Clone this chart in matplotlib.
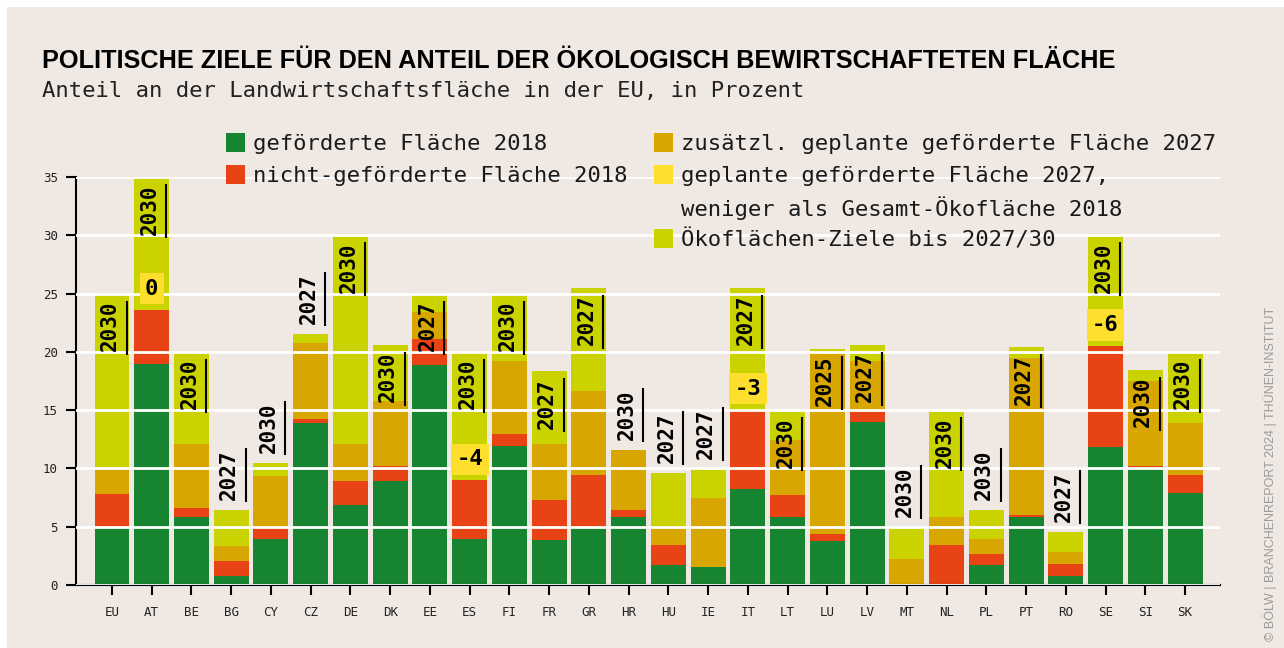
import matplotlib
matplotlib.use("Agg")
import matplotlib.pyplot as plt
from matplotlib.patches import Rectangle
from matplotlib import font_manager
import numpy as np

# data (percent of agricultural area)
countries = ["EU", "AT", "BE", "BG", "CY", "CZ", "DE", "DK", "EE", "ES", "FI", "FR", "GR", "HR",
             "HU", "IE", "IT", "LT", "LU", "LV", "MT", "NL", "PL", "PT", "RO", "SE", "SI", "SK"]
funded_2018 = [5.0, 19.0, 5.8, 0.8, 3.95, 13.9, 6.85, 8.9, 18.9, 3.95, 11.9, 3.9, 5.0, 5.8,
               1.7, 1.55, 8.25, 5.8, 3.8, 14.0, 0.0, 0.0, 1.7, 5.8, 0.8, 11.8, 10.1, 7.85]
unfunded_2018 = [2.8, 4.6, 0.8, 1.25, 1.05, 0.35, 2.05, 1.3, 2.2, 5.05, 1.05, 3.4, 4.45, 0.65,
                 1.7, 0.0, 6.8, 1.95, 0.6, 1.05, 0.0, 3.45, 0.95, 0.2, 1.0, 8.7, 0.15, 1.6]
extra_planned_2027 = [2.2, 0.0, 5.5, 1.3, 4.35, 6.5, 3.2, 5.6, 2.3, 0.0, 6.25, 4.8, 7.2, 5.15,
                      1.65, 5.9, 0.0, 4.7, 15.6, 4.2, 2.25, 2.4, 1.3, 13.5, 1.05, 0.0, 7.25, 4.45]
target_total = [25.0, 35.0, 20.0, 6.45, 10.45, 21.55, 30.0, 20.6, 25.0, 20.0, 25.0, 18.35, 25.5, 11.6,
                9.6, 9.95, 25.5, 15.0, 20.25, 20.6, 5.0, 15.0, 6.45, 20.4, 4.55, 30.0, 18.45, 20.0]
target_year = ["2030", "2030", "2030", "2027", "2030", "2027", "2030", "2030", "2027", "2030",
               "2030", "2027", "2027", "2030", "2027", "2027", "2027", "2030", "2025", "2027",
               "2030", "2030", "2030", "2027", "2027", "2030", "2030", "2030"]
# planned funded area 2027 minus total organic area 2018, where it is not higher
shortfall = {"AT": "0", "ES": "-4", "IT": "-3", "SE": "-6"}
year_label_above = {"BG", "CY", "CZ", "HR", "HU", "IE", "MT", "PL", "RO"}

legend_labels = ["geförderte Fläche 2018", "nicht-geförderte Fläche 2018",
                 "zusätzl. geplante geförderte Fläche 2027",
                 "geplante geförderte Fläche 2027,\nweniger als Gesamt-Ökofläche 2018",
                 "Ökoflächen-Ziele bis 2027/30"]

GREEN, RED, GOLD, LIME, YELLOW = "#168430", "#E84315", "#D8A600", "#CAD300", "#FFDF2E"
BG = "#EFE8E3"
MONO = "DejaVu Sans Mono"
plt.rcParams["font.family"] = MONO

W, H = 1284, 648
fig = plt.figure(figsize=(W / 100, H / 100), dpi=100)
fig.patch.set_facecolor("white")
fig.add_artist(Rectangle((7 / W, 0), 1 - 7 / W, 1 - 7 / H, transform=fig.transFigure,
                         facecolor=BG, edgecolor="none", zorder=-10))


def fx(px):
    return px / W


def fy(py):
    return 1 - py / H


ax_l, ax_r, ax_t, ax_b = 76, 1220, 177, 585
ax = fig.add_axes([fx(ax_l), fy(ax_b), (ax_r - ax_l) / W, (ax_b - ax_t) / H])
ax.set_facecolor("none")

x = np.arange(len(countries))
g = np.array(funded_2018)
r = np.array(unfunded_2018)
o = np.array(extra_planned_2027)
t = np.array(target_total)
lime = np.clip(t - g - r - o, 0, None)

bw = 0.88
ax.bar(x, g, bw, color=GREEN, linewidth=0)
ax.bar(x, r, bw, bottom=g, color=RED, linewidth=0)
ax.bar(x, o, bw, bottom=g + r, color=GOLD, linewidth=0)
ax.bar(x, lime, bw, bottom=g + r + o, color=LIME, linewidth=0)

ax.set_xlim(-0.906, len(countries) - 1 + 0.88)
ax.set_ylim(0, 35)
ax.set_yticks(range(0, 36, 5))
ax.set_xticks(x)
ax.set_xticklabels(countries)
ax.yaxis.grid(True, color="white", linewidth=2)
ax.set_axisbelow(False)
for s in ["top", "right"]:
    ax.spines[s].set_visible(False)
for s in ["left", "bottom"]:
    ax.spines[s].set_linewidth(1.5)
    ax.spines[s].set_color("black")
ax.tick_params(axis="both", length=7, width=1.5, color="black", labelsize=9, labelcolor="#222222")
ax.tick_params(axis="x", pad=8)
ax.tick_params(axis="y", pad=6)

ppu = (ax_b - ax_t) / 35.0  # pixels per percent
px_per_x = (ax_r - ax_l) / (len(countries) - 1 + 0.906 + 0.88)

for i, c in enumerate(countries):
    top = t[i]
    if c in year_label_above:
        ax.text(i - 2 / px_per_x, top + 10 / ppu, target_year[i], rotation=90, ha="center", va="bottom",
                fontsize=15, fontweight="bold", color="black", zorder=4)
        y0, y1 = top + 8 / ppu, top + 62 / ppu
    else:
        ax.text(i - 2 / px_per_x, top - 7 / ppu, target_year[i], rotation=90, ha="center", va="top",
                fontsize=15, fontweight="bold", color="black", zorder=4)
        y0, y1 = top - 7 / ppu, top - 61 / ppu
    lx = i + 14.5 / px_per_x
    ax.plot([lx, lx], [y0, y1], color="black", linewidth=1.5, zorder=4, solid_capstyle="butt")
    if c in shortfall:
        ax.text(i, g[i] + r[i] + 21 / ppu, shortfall[c], ha="center", va="center", fontsize=16,
                fontweight="bold", color="black", zorder=5,
                bbox=dict(boxstyle="square,pad=0.25", facecolor=YELLOW, edgecolor="none"))

# title and subtitle
names = {f.name for f in font_manager.fontManager.ttflist}
title_family = "Liberation Sans Narrow" if "Liberation Sans Narrow" in names else "Liberation Sans"
title = fig.text(fx(42), fy(68), "POLITISCHE ZIELE FÜR DEN ANTEIL DER ÖKOLOGISCH BEWIRTSCHAFTETEN FLÄCHE",
                 family=title_family, fontweight="bold", fontsize=17, color="black",
                 ha="left", va="baseline")
renderer = fig.canvas.get_renderer()
tw = title.get_window_extent(renderer).width
title.set_fontsize(17 * 1073 / tw)
fig.text(fx(42), fy(97), "Anteil an der Landwirtschaftsfläche in der EU, in Prozent",
         fontsize=16, color="#222222", ha="left", va="baseline")

# legend, drawn by hand in two columns; 32 px per text line
legend = [(253, 142, GREEN, legend_labels[0]),
          (253, 174, RED, legend_labels[1]),
          (681, 142, GOLD, legend_labels[2]),
          (681, 174, YELLOW, legend_labels[3]),
          (681, 238, LIME, legend_labels[4])]
for tx, ty, col, lab in legend:
    fig.add_artist(Rectangle((fx(tx - 27), fy(ty + 9.5)), 19 / W, 19 / H, transform=fig.transFigure,
                             facecolor=col, edgecolor="none", zorder=3))
    for k, line in enumerate(lab.split("\n")):
        fig.text(fx(tx), fy(ty + 32 * k), line, fontsize=16, color="#1a1a1a", ha="left",
                 va="center_baseline", zorder=3)

fig.text(fx(1270), fy(641), "© BÖLW | BRANCHENREPORT 2024 | THÜNEN-INSTITUT", family="Liberation Sans",
         fontsize=9, color="#9a9a9a", rotation=90, ha="center", va="bottom")

fig.savefig("out.png", dpi=100, facecolor=fig.get_facecolor())
